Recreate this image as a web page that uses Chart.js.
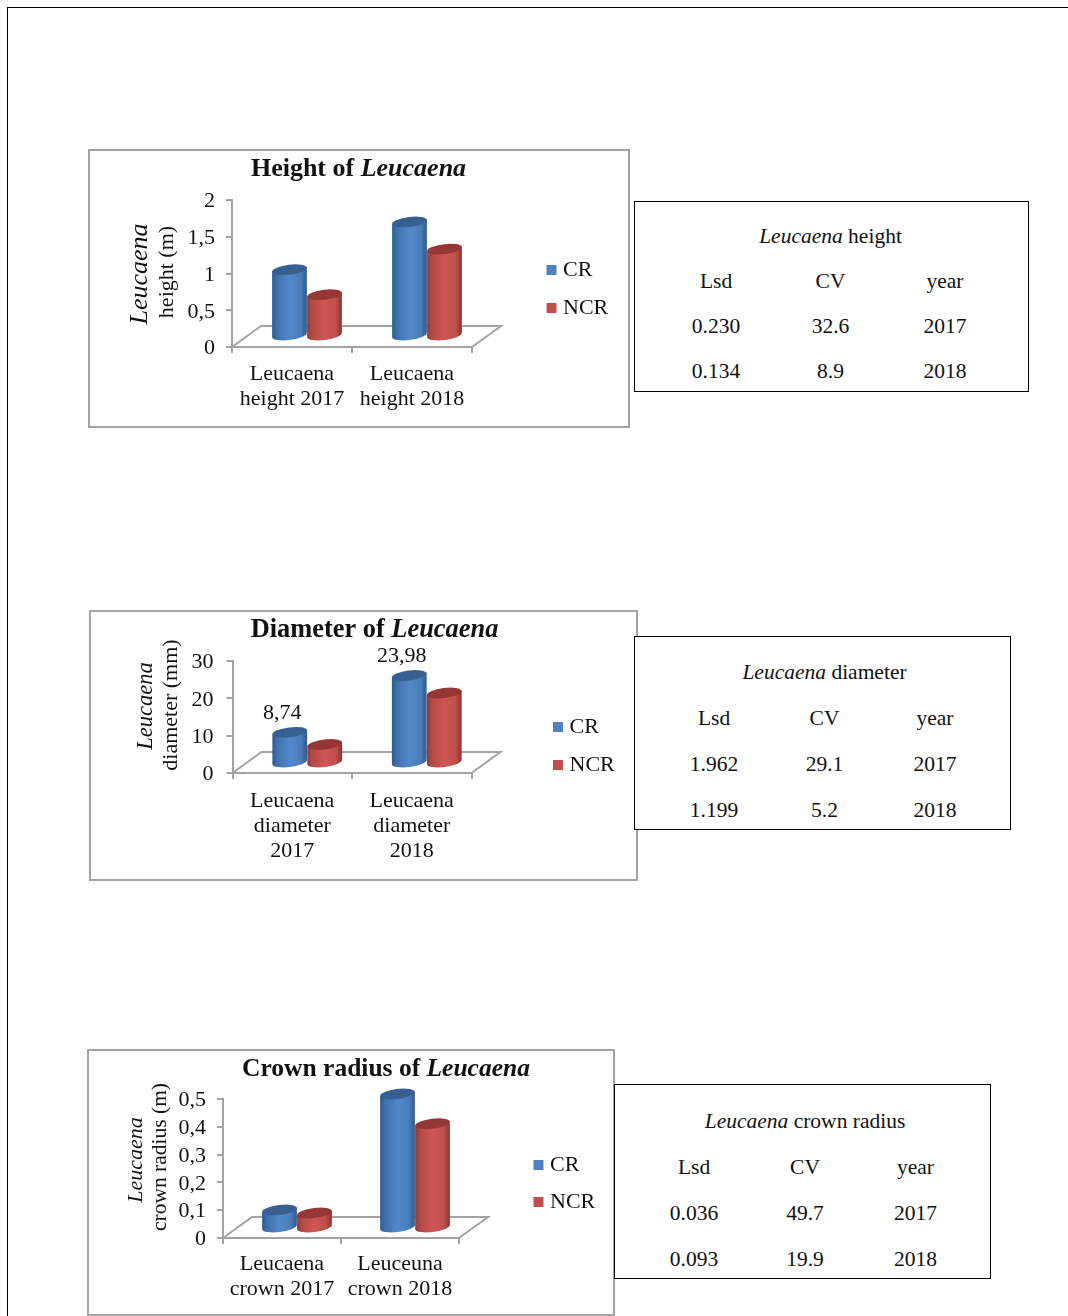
<!DOCTYPE html>
<html><head><meta charset="utf-8">
<script src="https://cdn.jsdelivr.net/npm/chart.js@4"></script>
<style>
html,body{margin:0;padding:0;background:#fff;overflow:hidden}
body{width:1068px;height:1316px;position:relative;font-family:"Liberation Serif",serif;color:#111}
#page{position:absolute;left:7px;top:7px;width:1100px;height:1400px;border:1px solid #000}
.box{position:absolute;box-sizing:border-box;border:2px solid #a3a3a3;background:#fff}
.box canvas{position:absolute;left:-2px;top:-2px}
.tb{position:absolute;box-sizing:border-box;border:1px solid #000;background:#fff}
.c{position:absolute;transform:translate(-50%,-50%);font-size:21.5px;white-space:nowrap;line-height:1}
</style></head><body>
<div id="page"></div>
<script>
// ---- data ----
const seriesNames = ['CR', 'NCR'];
const categories1 = [['Leucaena', 'height 2017'], ['Leucaena', 'height 2018']];
const cr1 = [0.97, 1.62];
const ncr1 = [0.63, 1.25];
const yTicks1 = ['0', '0,5', '1', '1,5', '2'];

const categories2 = [['Leucaena', 'diameter', '2017'], ['Leucaena', 'diameter', '2018']];
const cr2 = [8.74, 23.98];
const ncr2 = [5.5, 19.3];
const yTicks2 = ['0', '10', '20', '30'];

const categories3 = [['Leucaena', 'crown 2017'], ['Leuceuna', 'crown 2018']];
const cr3 = [0.083, 0.5];
const ncr3 = [0.072, 0.393];
const yTicks3 = ['0', '0,1', '0,2', '0,3', '0,4', '0,5'];

const tableHead = ['Lsd', 'CV', 'year'];
const table1 = [['0.230', '32.6', '2017'], ['0.134', '8.9', '2018']];
const table2 = [['1.962', '29.1', '2017'], ['1.199', '5.2', '2018']];
const table3 = [['0.036', '49.7', '2017'], ['0.093', '19.9', '2018']];

// ---- drawing helpers ----
const FONT = '"Liberation Serif"';
const STY = [
  {stops:['#2c5a8f','#3f70ab','#5289ca','#4a7db9','#30598a'], cap:'#376092'},
  {stops:['#8c3a38','#b34a47','#cf5654','#bf4f4c','#873331'], cap:'#953735'}
];
const TILT = 7 * Math.PI / 180;

function cylinder(ctx, cx, topY, baseY, w, sty){
  const a = w / 2, b = 5;
  const g = ctx.createLinearGradient(cx - a, 0, cx + a, 0);
  [0, .14, .5, .82, 1].forEach((p, i) => g.addColorStop(p, sty.stops[i]));
  ctx.beginPath();
  ctx.ellipse(cx, baseY, a, b, -TILT, 0, Math.PI);
  ctx.lineTo(cx - a * Math.cos(TILT), topY + a * Math.sin(TILT));
  ctx.lineTo(cx + a * Math.cos(TILT), topY - a * Math.sin(TILT));
  ctx.closePath();
  ctx.fillStyle = g; ctx.fill();
  ctx.beginPath();
  ctx.ellipse(cx, topY, a, b, -TILT, 0, Math.PI * 2);
  ctx.fillStyle = sty.cap; ctx.fill();
}

const scene = {
  id: 'scene',
  afterLayout(chart, args, o){
    const lg = chart.legend;
    lg.left = o.legendX; lg.right = o.legendX + 110;
    lg.top = o.legendY; lg.bottom = o.legendY + 160;
  },
  beforeDatasetsDraw(chart, args, o){
    const {ctx, scales:{x, y}} = chart;
    const y0 = y.getPixelForValue(0);
    ctx.save();
    ctx.strokeStyle = '#a3a3a3'; ctx.lineWidth = 2;
    ctx.beginPath();
    ctx.moveTo(x.left, y0);
    ctx.lineTo(x.left + o.depthX, y0 - o.depthY);
    ctx.lineTo(x.right + o.depthX, y0 - o.depthY);
    ctx.lineTo(x.right, y0);
    ctx.stroke();
    ctx.restore();
  },
  beforeDatasetDraw(chart, args, o){
    const ctx = chart.ctx, meta = args.meta;
    meta.data.forEach(el => {
      const p = el.getProps(['x', 'y', 'base', 'width']);
      cylinder(ctx, p.x + o.shiftX, p.y + o.shiftY + o.capOffset, p.base + o.shiftY, p.width, STY[args.index]);
    });
    return false;
  },
  afterDraw(chart, args, o){
    const ctx = chart.ctx;
    ctx.save();
    ctx.fillStyle = '#111'; ctx.textBaseline = 'middle';
    // title, with its italic part
    const parts = [['bold ' + o.titleSize + 'px ' + FONT, o.title], ['italic bold ' + o.titleSize + 'px ' + FONT, 'Leucaena']];
    let tw = 0;
    parts.forEach(p => { ctx.font = p[0]; tw += ctx.measureText(p[1]).width; });
    let tx = o.titleX - tw / 2;
    ctx.textAlign = 'left';
    parts.forEach(p => { ctx.font = p[0]; ctx.fillText(p[1], tx, o.titleY); tx += ctx.measureText(p[1]).width; });
    // rotated axis title lines
    ctx.textAlign = 'center';
    o.axisLines.forEach(l => {
      ctx.save();
      ctx.translate(l.x, l.y); ctx.rotate(-Math.PI / 2);
      ctx.font = l.font + ' ' + FONT;
      ctx.fillText(l.text, 0, 0);
      ctx.restore();
    });
    // value labels
    if (o.labelSeries !== undefined) {
      ctx.font = '22px ' + FONT;
      const ds = chart.data.datasets[o.labelSeries];
      chart.getDatasetMeta(o.labelSeries).data.forEach((el, i) => {
        ctx.fillText(String(ds.data[i]).replace('.', ','), el.x + o.labelDX, el.y + o.labelDY);
      });
    }
    ctx.restore();
  }
};

function makeChart(c){
  const box = document.createElement('div');
  box.className = 'box';
  box.style.cssText = `left:${c.bx}px;top:${c.by}px;width:${c.bw}px;height:${c.bh}px`;
  const cv = document.createElement('canvas');
  cv.width = c.bw; cv.height = c.bh;
  cv.style.width = c.bw + 'px'; cv.style.height = c.bh + 'px';
  box.appendChild(cv); document.body.appendChild(box);
  const font = {family: FONT, size: 22, lineHeight: 1.14};
  new Chart(cv, {
    type: 'bar',
    data: {labels: c.categories, datasets: [
      {label: seriesNames[0], data: c.cr, backgroundColor: '#4f81bd', borderWidth: 0},
      {label: seriesNames[1], data: c.ncr, backgroundColor: '#c0504d', borderWidth: 0}
    ]},
    plugins: [scene],
    options: {
      responsive: false, animation: false,
      layout: {autoPadding: false, padding: {left: 0, top: c.top - c.by, right: c.bx + c.bw - c.right, bottom: 0}},
      datasets: {bar: {barPercentage: 1, categoryPercentage: c.barW * 2 / ((c.right - c.axis) / 2)}},
      scales: {
        x: {
          afterFit(s){ s.height = c.by + c.bh - c.y0; },
          grid: {drawOnChartArea: false, color: '#a3a3a3', lineWidth: 2, tickLength: 6},
          border: {color: '#a3a3a3', width: 2},
          ticks: {font, color: '#111', padding: c.xPad, maxRotation: 0, minRotation: 0, autoSkip: false}
        },
        y: {
          min: 0, max: c.max,
          afterFit(s){ s.width = c.axis - c.bx; },
          afterBuildTicks(s){
            const step = c.max / (c.ticks.length - 1);
            s.ticks = c.ticks.map((t, i) => ({value: step * i}));
          },
          grid: {drawOnChartArea: false, color: '#a3a3a3', lineWidth: 2, tickLength: 6},
          border: {color: '#a3a3a3', width: 2},
          ticks: {font, color: '#111', padding: c.yPad, labelOffset: 1.5, autoSkip: false, callback: (v, i) => c.ticks[i]}
        }
      },
      plugins: {
        title: {display: false}, tooltip: {enabled: false},
        legend: {
          position: 'chartArea', align: 'start',
          labels: {font: {family: FONT, size: 22, lineHeight: 1}, color: '#111', usePointStyle: true, pointStyle: 'rect',
            boxWidth: 1, boxHeight: 10, padding: c.legendGap}
        },
        scene: {
          depthX: 29, depthY: 21, shiftX: 15, shiftY: c.shiftY, capOffset: c.capOffset,
          legendX: c.legendX - c.bx - c.legendGap, legendY: c.legendY - c.by - c.legendGap - 11,
          title: c.title, titleSize: c.titleSize, titleX: c.titleX - c.bx, titleY: c.titleY - c.by,
          axisLines: c.axisLines.map(l => ({...l, x: l.x - c.bx, y: l.y - c.by})),
          labelSeries: c.labelSeries, labelDX: 7.5, labelDY: -27
        }
      }
    }
  });
}

function makeTable(t, rows){
  const d = document.createElement('div');
  d.className = 'tb';
  d.style.cssText = `left:${t.x}px;top:${t.y}px;width:${t.w}px;height:${t.h}px`;
  const put = (html, x, y) => {
    const s = document.createElement('span');
    s.className = 'c'; s.innerHTML = html;
    s.style.left = (x - t.x - 1) + 'px'; s.style.top = (y - t.y) + 'px';
    d.appendChild(s);
  };
  put('<i>Leucaena</i> ' + t.title, t.tx, t.rows[0]);
  tableHead.forEach((h, i) => put(h, t.cols[i], t.rows[1]));
  rows.forEach((r, j) => r.forEach((v, i) => put(v, t.cols[i], t.rows[j + 2])));
  document.body.appendChild(d);
}

makeChart({bx:88, by:149, bw:542, bh:279, axis:232, right:472, top:200, y0:347, max:2, ticks:yTicks1,
  categories:categories1, cr:cr1, ncr:ncr1, barW:35, shiftY:-11, capOffset:5, xPad:9, yPad:11,
  legendX:551, legendY:270, legendGap:16,
  title:'Height of ', titleSize:26, titleX:358.5, titleY:169,
  axisLines:[{text:'Leucaena', font:'italic 26px', x:140, y:274},{text:'height (m)', font:'22px', x:167, y:272}]});
makeChart({bx:88.5, by:610, bw:549, bh:271, axis:232, right:471, top:661, y0:773, max:30, ticks:yTicks2,
  categories:categories2, cr:cr2, ncr:ncr2, barW:35, shiftY:-10, capOffset:2, xPad:10, yPad:13,
  legendX:557, legendY:727, legendGap:16, labelSeries:0,
  title:'Diameter of ', titleSize:26.4, titleX:374, titleY:630,
  axisLines:[{text:'Leucaena', font:'italic 22.5px', x:146, y:706},{text:'diameter (mm)', font:'22px', x:171, y:705}]});
makeChart({bx:87, by:1049, bw:528, bh:267, axis:223, right:459, top:1099, y0:1238, max:0.5, ticks:yTicks3,
  categories:categories3, cr:cr3, ncr:ncr3, barW:35, shiftY:-10, capOffset:5, xPad:8, yPad:11,
  legendX:538, legendY:1165, legendGap:15,
  title:'Crown radius of ', titleSize:25.5, titleX:386, titleY:1069,
  axisLines:[{text:'Leucaena', font:'italic 22px', x:136, y:1160},{text:'crown radius (m)', font:'21.5px', x:160, y:1157}]});

makeTable({x:634, y:201, w:395, h:191, title:'height', tx:830.5, cols:[716,830.5,945], rows:[236,281,326,371]}, table1);
makeTable({x:634, y:636, w:377, h:194, title:'diameter', tx:824.5, cols:[714,824.5,935], rows:[672,718,764,810]}, table2);
makeTable({x:614, y:1084, w:377, h:195, title:'crown radius', tx:805, cols:[694,805,915.5], rows:[1121,1167,1213,1259]}, table3);
</script>
</body></html>
